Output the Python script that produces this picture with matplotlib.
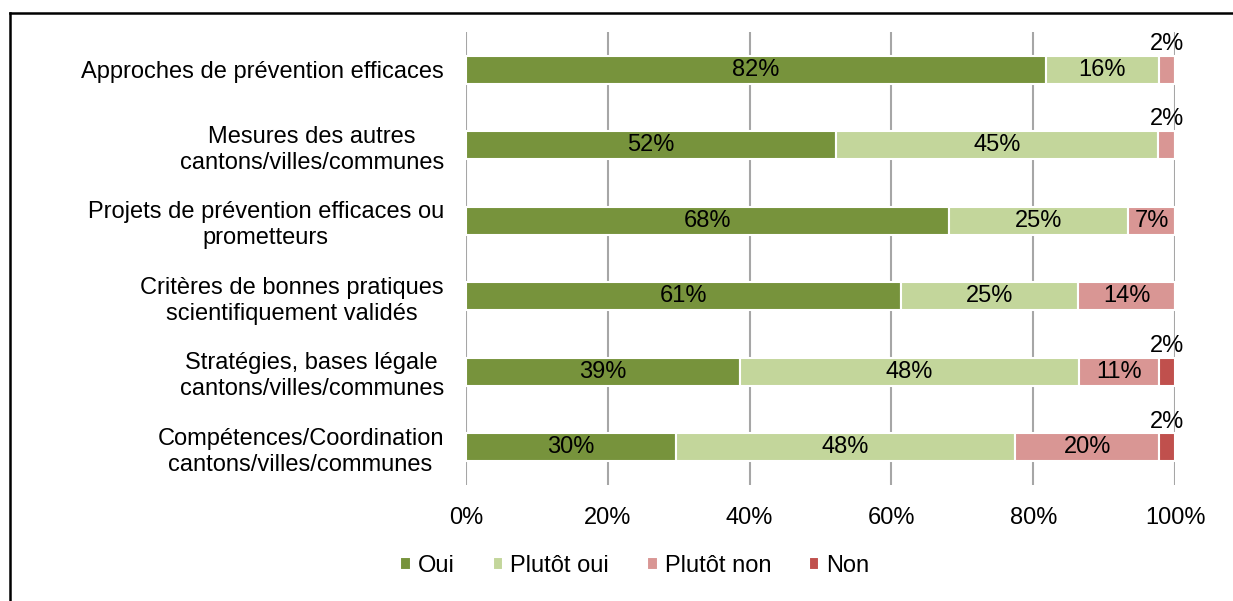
import numpy as np
import matplotlib.pyplot as plt
from matplotlib.lines import Line2D

plt.rcParams['font.family'] = ['Liberation Sans', 'DejaVu Sans']

# Données
categories = [
    "Approches de prévention efficaces",
    "Mesures des autres\ncantons/villes/communes",
    "Projets de prévention efficaces ou\nprometteurs",
    "Critères de bonnes pratiques\nscientifiquement validés",
    "Stratégies, bases légale\ncantons/villes/communes",
    "Compétences/Coordination\ncantons/villes/communes",
]
oui = [81.8, 52.2, 68.1, 61.4, 38.6, 29.6]
plutot_oui = [15.9, 45.4, 25.3, 24.9, 47.8, 47.8]
plutot_non = [2.3, 2.4, 6.6, 13.7, 11.4, 20.4]
non = [0, 0, 0, 0, 2.2, 2.2]

series = [
    ("Oui", oui, "#77933C"),
    ("Plutôt oui", plutot_oui, "#C3D69B"),
    ("Plutôt non", plutot_non, "#D99694"),
    ("Non", non, "#C0504D"),
]

FS = 17

fig = plt.figure(figsize=(12.33, 6.01), dpi=100)
ax = fig.add_axes([0.378, 0.193, 0.575, 0.754])

y = np.arange(len(categories))
left = np.zeros(len(categories))
for name, vals, col in series:
    vals = np.array(vals)
    ax.barh(y, vals, left=left, height=0.37, color=col, edgecolor="white",
            linewidth=1.5, label=name, zorder=2)
    for i, v in enumerate(vals):
        if v <= 0:
            continue
        cx = left[i] + v / 2
        txt = f"{v:.0f}%"
        if v < 4:
            ax.text(cx, y[i] - 0.34, txt, ha="center", va="center", fontsize=FS)
        else:
            ax.text(cx, y[i], txt, ha="center", va="center", fontsize=FS)
    left += vals

ax.set_xlim(0, 100)
ax.set_ylim(len(categories) - 0.5, -0.5)
ax.set_xticks(np.arange(0, 101, 20))
ax.set_xticklabels([f"{t}%" for t in range(0, 101, 20)], fontsize=FS)
ax.set_yticks(y)
ax.set_yticklabels(categories, fontsize=FS, multialignment="center",
                   linespacing=1.25)
ax.tick_params(axis="both", length=0)
ax.tick_params(axis="x", pad=16)
ax.tick_params(axis="y", pad=16)
ax.xaxis.grid(True, color="#a6a6a6", linewidth=1.5, zorder=0)
ax.set_axisbelow(True)
for s in ax.spines.values():
    s.set_visible(False)

fig.legend(loc="center", bbox_to_anchor=(0.515, 0.058), ncol=4, frameon=False,
           fontsize=FS, handlelength=0.45, handleheight=0.45, handletextpad=0.3,
           columnspacing=1.6)

# cadre (haut et gauche)
fig.add_artist(Line2D([10 / 1233, 1.0], [1 - 13 / 601, 1 - 13 / 601],
                      color="black", linewidth=1.8, transform=fig.transFigure))
fig.add_artist(Line2D([10 / 1233, 10 / 1233], [0, 1 - 13 / 601],
                      color="black", linewidth=1.8, transform=fig.transFigure))

fig.savefig("out.png", dpi=100)
